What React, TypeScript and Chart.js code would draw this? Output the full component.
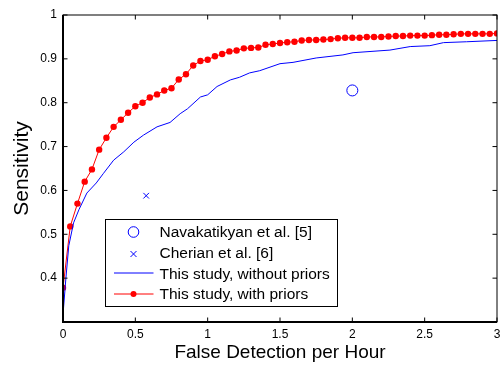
import React, { useEffect, useRef } from "react";
import { Chart, registerables } from "chart.js";

Chart.register(...registerables);

const FONT = "'Liberation Sans', Arial, Helvetica, sans-serif";

const xTickValues = [0, 0.5, 1, 1.5, 2, 2.5, 3];
const yTickValues = [0.4, 0.5, 0.6, 0.7, 0.8, 0.9, 1];

const redX = [
  0, 0.05, 0.1, 0.15, 0.2, 0.25, 0.3, 0.35, 0.4, 0.45, 0.5, 0.55, 0.6, 0.65, 0.7, 0.75, 0.8, 0.85, 0.9, 0.95,
  1.0, 1.05, 1.1, 1.15, 1.2, 1.25, 1.3, 1.35, 1.4, 1.45, 1.5, 1.55, 1.6, 1.65, 1.7, 1.75, 1.8, 1.85, 1.9, 1.95,
  2.0, 2.05, 2.1, 2.15, 2.2, 2.25, 2.3, 2.35, 2.4, 2.45, 2.5, 2.55, 2.6, 2.65, 2.7, 2.75, 2.8, 2.85, 2.9, 2.95, 3.0,
];
const redY = [
  0.378, 0.518, 0.57, 0.62, 0.648, 0.693, 0.72, 0.745, 0.761, 0.777, 0.792, 0.8, 0.812, 0.819, 0.828, 0.833, 0.853,
  0.865, 0.885, 0.895, 0.898, 0.906, 0.911, 0.917, 0.919, 0.924, 0.925, 0.926, 0.932, 0.934, 0.936, 0.938, 0.939,
  0.942, 0.943, 0.943, 0.944, 0.945, 0.947, 0.948, 0.948, 0.948, 0.95, 0.95, 0.95, 0.951, 0.952, 0.952, 0.953,
  0.953, 0.953, 0.954, 0.955, 0.955, 0.956, 0.957, 0.957, 0.957, 0.957, 0.957, 0.958,
];

const blueX = [
  0, 0.02, 0.04, 0.073, 0.11, 0.165, 0.23, 0.28, 0.35, 0.42, 0.49, 0.556, 0.65, 0.74, 0.81, 0.86, 0.95, 1.0, 1.065,
  1.157, 1.22, 1.29, 1.36, 1.5, 1.59, 1.75, 1.935, 2.005, 2.26, 2.4, 2.536, 2.63, 2.79, 3.0,
];
const blueY = [
  0.317, 0.4, 0.474, 0.526, 0.556, 0.594, 0.617, 0.639, 0.669, 0.688, 0.71, 0.726, 0.745, 0.755, 0.775, 0.786, 0.813,
  0.818, 0.837, 0.852, 0.858, 0.868, 0.873, 0.889, 0.892, 0.902, 0.909, 0.914, 0.92, 0.928, 0.93, 0.937, 0.939, 0.942,
];

const navakatikyan = { x: 2.0, y: 0.828 };
const cherian = { x: 0.575, y: 0.588 };

const legendLabels = [
  "Navakatikyan et al. [5]",
  "Cherian et al. [6]",
  "This study, without priors",
  "This study, with priors",
];

const BLUE = "#0000ff";
const RED = "#ff0000";

const framePlugin = {
  id: "frameTicks",
  afterDraw(chart: any) {
    const { ctx, chartArea } = chart;
    const { left, right, top, bottom } = chartArea;
    const xs = chart.scales.x;
    const ys = chart.scales.y;
    ctx.save();
    ctx.strokeStyle = "#000";
    ctx.lineWidth = 1;
    ctx.strokeRect(left, top, right - left, bottom - top);
    ctx.lineWidth = 2;
    ctx.beginPath();
    ctx.moveTo(left, top);
    ctx.lineTo(left, bottom);
    ctx.lineTo(right, bottom);
    ctx.stroke();
    ctx.lineWidth = 1;
    const tl = 4.5;
    ctx.beginPath();
    xTickValues.forEach((v) => {
      const px = xs.getPixelForValue(v);
      ctx.moveTo(px, bottom);
      ctx.lineTo(px, bottom - tl);
      ctx.moveTo(px, top);
      ctx.lineTo(px, top + tl);
    });
    yTickValues.forEach((v) => {
      const py = ys.getPixelForValue(v);
      ctx.moveTo(left, py);
      ctx.lineTo(left + tl, py);
      ctx.moveTo(right, py);
      ctx.lineTo(right - tl, py);
    });
    ctx.stroke();

    // legend
    const bx = left + 42;
    const by = top + 204;
    const bw = 232;
    const bh = 87;
    ctx.fillStyle = "#fff";
    ctx.fillRect(bx, by, bw, bh);
    ctx.strokeStyle = "#000";
    ctx.lineWidth = 1;
    ctx.strokeRect(bx + 0.5, by + 0.5, bw, bh);
    const rows = [by + 14, by + 35, by + 55.5, by + 76];
    const sx = bx + 28.5;
    const lx0 = bx + 9;
    const lx1 = bx + 48.5;
    ctx.strokeStyle = BLUE;
    ctx.lineWidth = 1;
    ctx.beginPath();
    ctx.arc(sx, rows[0] - 1, 5.3, 0, Math.PI * 2);
    ctx.stroke();
    ctx.beginPath();
    ctx.moveTo(sx - 3, rows[1] - 3);
    ctx.lineTo(sx + 3, rows[1] + 3);
    ctx.moveTo(sx + 3, rows[1] - 3);
    ctx.lineTo(sx - 3, rows[1] + 3);
    ctx.stroke();
    ctx.beginPath();
    ctx.moveTo(lx0, rows[2] - 1.5);
    ctx.lineTo(lx1, rows[2] - 1.5);
    ctx.stroke();
    ctx.strokeStyle = RED;
    ctx.beginPath();
    ctx.moveTo(lx0, rows[3] - 1);
    ctx.lineTo(lx1, rows[3] - 1);
    ctx.stroke();
    ctx.fillStyle = RED;
    ctx.beginPath();
    ctx.arc(sx, rows[3] - 1, 3, 0, Math.PI * 2);
    ctx.fill();
    ctx.fillStyle = "#000";
    ctx.font = "15.5px " + FONT;
    ctx.textBaseline = "middle";
    ctx.textAlign = "left";
    legendLabels.forEach((t, i) => {
      ctx.fillText(t, bx + 54.5, rows[i]);
    });
    ctx.restore();
  },
};

export default function App() {
  const ref = useRef<HTMLCanvasElement | null>(null);
  useEffect(() => {
    if (!ref.current) return;
    const chart = new Chart(ref.current, {
      type: "scatter",
      data: {
        datasets: [
          {
            label: legendLabels[0],
            data: [navakatikyan],
            pointStyle: "circle",
            pointRadius: 5.5,
            borderColor: BLUE,
            backgroundColor: "rgba(0,0,0,0)",
            borderWidth: 1,
            showLine: false,
          },
          {
            label: legendLabels[1],
            data: [cherian],
            pointStyle: "crossRot",
            pointRadius: 4,
            borderColor: BLUE,
            borderWidth: 1,
            showLine: false,
          },
          {
            label: legendLabels[2],
            data: blueX.map((x, i) => ({ x, y: blueY[i] })),
            showLine: true,
            borderColor: BLUE,
            borderWidth: 1,
            pointRadius: 0,
            tension: 0,
          },
          {
            label: legendLabels[3],
            data: redX.map((x, i) => ({ x, y: redY[i] })),
            showLine: true,
            borderColor: RED,
            backgroundColor: RED,
            borderWidth: 1,
            pointRadius: 3.2,
            pointBorderWidth: 0,
            pointBackgroundColor: RED,
            tension: 0,
          },
        ],
      },
      options: {
        animation: false,
        responsive: false,
        devicePixelRatio: 1,
        layout: { padding: { top: 15, right: 13, left: 0, bottom: 0 } },
        plugins: { legend: { display: false }, tooltip: { enabled: false } },
        scales: {
          x: {
            type: "linear",
            min: 0,
            max: 3,
            afterFit: (s: any) => {
              s.height = 44;
            },
            afterBuildTicks: (s: any) => {
              s.ticks = xTickValues.map((v) => ({ value: v }));
            },
            grid: { display: false, drawTicks: false },
            border: { display: false },
            ticks: {
              padding: 5,
              color: "#000",
              font: { family: FONT, size: 12 },
              maxRotation: 0,
              callback: (v: any) => String(Math.round(Number(v) * 10) / 10),
            },
            title: {
              display: true,
              text: "False Detection per Hour",
              color: "#000",
              font: { family: FONT, size: 19 },
              padding: { top: 0, bottom: 2 },
            },
          },
          y: {
            type: "linear",
            min: 0.3,
            max: 1,
            afterFit: (s: any) => {
              s.width = 63;
            },
            afterBuildTicks: (s: any) => {
              s.ticks = yTickValues.map((v) => ({ value: v }));
            },
            grid: { display: false, drawTicks: false },
            border: { display: false },
            ticks: {
              padding: 6,
              color: "#000",
              font: { family: FONT, size: 12 },
              callback: (v: any) => String(Math.round(Number(v) * 10) / 10),
            },
            title: {
              display: true,
              text: "Sensitivity",
              color: "#000",
              font: { family: FONT, size: 21 },
              padding: { top: 9.5, bottom: 0 },
            },
          },
        },
      },
      plugins: [framePlugin],
    } as any);
    return () => chart.destroy();
  }, []);
  return (
    <div
      style={{
        position: "fixed",
        left: 0,
        top: 0,
        width: 500,
        height: 366,
        overflow: "hidden",
        background: "#fff",
      }}
    >
      <canvas ref={ref} width={510} height={366} style={{ display: "block", width: 510, height: 366 }} />
    </div>
  );
}
